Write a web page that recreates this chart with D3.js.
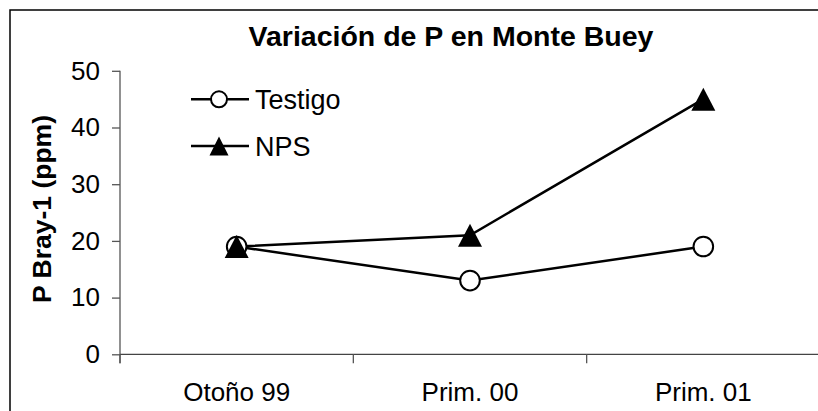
<!DOCTYPE html>
<html>
<head>
<meta charset="utf-8">
<script src="https://cdn.jsdelivr.net/npm/d3@7"></script>
<style>
  html, body { margin: 0; padding: 0; background: #fff; }
  svg { display: block; font-family: "Liberation Sans", Arial, sans-serif; }
</style>
</head>
<body>
<svg id="chart" width="818" height="411"></svg>
<script>
const categories = ["Otoño 99", "Prim. 00", "Prim. 01"];
const testigo = [19, 13, 19];
const nps = [19, 21, 45];
const yTicks = [0, 10, 20, 30, 40, 50];
const seriesNames = ["Testigo", "NPS"];
const titleText = "Variación de P en Monte Buey";
const yLabel = "P Bray-1 (ppm)";

const svg = d3.select("#chart");

// outer frame (extends past the right / bottom edge as in the reference)
svg.append("rect")
  .attr("x", 10).attr("y", 10).attr("width", 840).attr("height", 440)
  .attr("fill", "none").attr("stroke", "#000").attr("stroke-width", 1.5);

const pLeft = 120, pRight = 820, pTop = 70.8, pBottom = 354.3;

const x = d3.scaleBand().domain(categories).range([pLeft, pRight]);
const y = d3.scaleLinear().domain([0, 50]).range([pBottom, pTop]);

// y axis
const yAxis = d3.axisLeft(y).tickValues(yTicks).tickSize(8).tickPadding(12);
const gy = svg.append("g").attr("transform", `translate(${pLeft},0)`).call(yAxis);
gy.select(".domain").attr("d", `M0,${pTop}V${pBottom + 9}`).attr("stroke", "#555").attr("stroke-width", 1.3);
gy.selectAll(".tick line").attr("stroke", "#555").attr("stroke-width", 1.3);
gy.selectAll(".tick text").attr("font-size", 26).attr("fill", "#000")
  .attr("font-family", "'Liberation Sans', Arial, sans-serif");

// x axis
const xAxis = d3.axisBottom(x).tickSize(0).tickPadding(0);
const gx = svg.append("g").attr("transform", `translate(0,${pBottom})`).call(xAxis);
gx.select(".domain").attr("d", `M${pLeft},0H${pRight}`).attr("stroke", "#444").attr("stroke-width", 1.3);
gx.selectAll(".tick text").attr("font-size", 26).attr("fill", "#000")
  .attr("font-family", "'Liberation Sans', Arial, sans-serif")
  .attr("y", 47).attr("dy", null);
// category boundary ticks
const bounds = categories.map(c => x(c)).concat([x(categories[categories.length - 1]) + x.bandwidth()]);
gx.selectAll(".bound").data(bounds).enter().append("line")
  .attr("x1", d => d).attr("x2", d => d).attr("y1", 0).attr("y2", 9)
  .attr("stroke", "#555").attr("stroke-width", 1.3);

const cx = c => x(c) + x.bandwidth() / 2;
const line = d3.line().x((d, i) => cx(categories[i])).y(d => y(d));

// lines
svg.append("path").datum(testigo).attr("d", line)
  .attr("fill", "none").attr("stroke", "#000").attr("stroke-width", 2.5);
svg.append("path").datum(nps).attr("d", line)
  .attr("fill", "none").attr("stroke", "#000").attr("stroke-width", 2.5);

// markers
const triPath = (cxp, cyp, w, h) => `M${cxp},${cyp - h / 2}L${cxp + w / 2},${cyp + h / 2}L${cxp - w / 2},${cyp + h / 2}Z`;

svg.selectAll(".mk-t").data(testigo).enter().append("circle")
  .attr("cx", (d, i) => cx(categories[i])).attr("cy", d => y(d)).attr("r", 9.8)
  .attr("fill", "#fff").attr("stroke", "#000").attr("stroke-width", 2);
svg.selectAll(".mk-n").data(nps).enter().append("path")
  .attr("d", (d, i) => triPath(cx(categories[i]), y(d), 24, 23))
  .attr("fill", "#000");

// legend
const legY = [99.3, 146];
const legX1 = 191, legX2 = 249, legMid = 219;
seriesNames.forEach((name, i) => {
  svg.append("line").attr("x1", legX1).attr("x2", legX2).attr("y1", legY[i]).attr("y2", legY[i])
    .attr("stroke", "#000").attr("stroke-width", 2.5);
  if (i === 0) {
    svg.append("circle").attr("cx", legMid).attr("cy", legY[i]).attr("r", 8)
      .attr("fill", "#fff").attr("stroke", "#000").attr("stroke-width", 2);
  } else {
    svg.append("path").attr("d", triPath(legMid, legY[i], 19, 19)).attr("fill", "#000");
  }
  svg.append("text").attr("x", 255).attr("y", legY[i] + 9.8)
    .attr("font-size", 27).attr("fill", "#000").text(name);
});

// title
svg.append("text").attr("x", 451).attr("y", 46).attr("text-anchor", "middle")
  .attr("font-size", 28.5).attr("font-weight", "bold").attr("fill", "#000").text(titleText);

// y label
svg.append("text").attr("transform", "translate(51,209) rotate(-90)")
  .attr("text-anchor", "middle").attr("font-size", 26.5).attr("font-weight", "bold")
  .attr("fill", "#000").text(yLabel);
</script>
</body>
</html>
